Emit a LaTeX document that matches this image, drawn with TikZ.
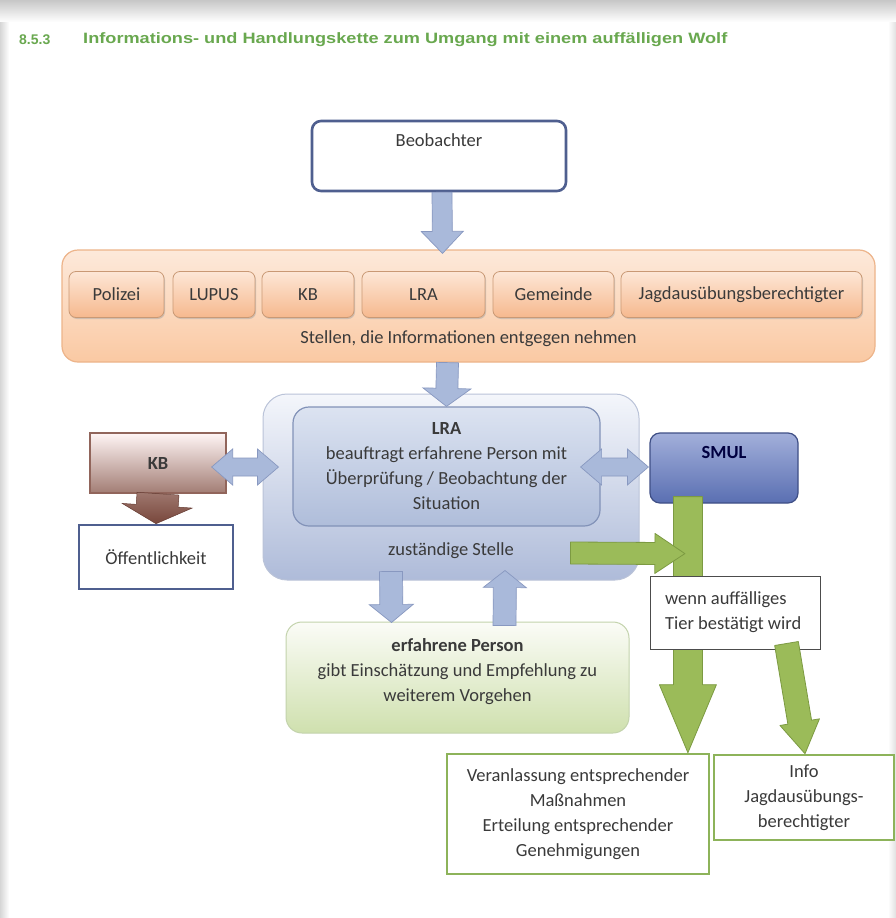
\documentclass[tikz,border=0pt]{standalone}
\usepackage{fontspec}
\setmainfont{Carlito}
\newfontfamily\titlefont{Liberation Sans}
\usetikzlibrary{calc,shadows}
\definecolor{titlegreen}{HTML}{69A84F}
\definecolor{txt}{HTML}{3A3A3A}
\definecolor{orbord}{HTML}{EDB48A}
\definecolor{bluebord}{HTML}{8292B8}
\definecolor{arrblue}{HTML}{A9B9DA}
\definecolor{arrbluebord}{HTML}{8898C0}
\definecolor{grn}{HTML}{9BBB59}
\definecolor{grnbord}{HTML}{7C9A42}
\definecolor{grnbox}{HTML}{8DB35A}
\definecolor{brn}{HTML}{7E4A3E}
\definecolor{oeffbord}{HTML}{4F5F8F}
\definecolor{conttop}{HTML}{F4F6FB}
\definecolor{contbot}{HTML}{AEBBD9}
\definecolor{lratop}{HTML}{DCE3F1}
\definecolor{lrabot}{HTML}{AFBDDA}
\definecolor{smultop}{HTML}{A2AFDA}
\definecolor{smulbot}{HTML}{5A6FB2}
\definecolor{smulbord}{HTML}{3F4F86}
\definecolor{ertop}{HTML}{FBFCF7}
\definecolor{erbot}{HTML}{CFE0AE}
\definecolor{erbord}{HTML}{C3D3AC}
\definecolor{ortop}{HTML}{FDE9DA}
\definecolor{orbot}{HTML}{FAC9A3}
\definecolor{obtop}{HTML}{FDE6D6}
\definecolor{obbot}{HTML}{F6B98E}
\newcommand\fatarrow[6]{% style, A, B, shaft half, head half, head length
  \coordinate (fa-h) at ($(#3)!#6!(#2)$);
  \path[#1] ($(#2)!#4!90:(#3)$) -- ($(fa-h)!#4!90:(#3)$) -- ($(fa-h)!#5!90:(#3)$) -- (#3)
    -- ($(fa-h)!#5!-90:(#3)$) -- ($(fa-h)!#4!-90:(#3)$) -- ($(#2)!#4!-90:(#3)$) -- cycle;}
\newcommand\dblfatarrow[6]{%
  \coordinate (fa-h1) at ($(#2)!#6!(#3)$);
  \coordinate (fa-h2) at ($(#3)!#6!(#2)$);
  \path[#1] (#2) -- ($(fa-h1)!#5!90:(#3)$) -- ($(fa-h1)!#4!90:(#3)$) -- ($(fa-h2)!#4!90:(#3)$)
    -- ($(fa-h2)!#5!90:(#3)$) -- (#3) -- ($(fa-h2)!#5!-90:(#3)$) -- ($(fa-h2)!#4!-90:(#3)$)
    -- ($(fa-h1)!#4!-90:(#3)$) -- ($(fa-h1)!#5!-90:(#3)$) -- cycle;}
\tikzset{
  every node/.style={text=txt, font=\fontsize{18.5}{25}\selectfont},
  orcont/.style={draw=orbord, line width=1.2pt, rounded corners=16pt, top color=ortop, bottom color=orbot},
  orbox/.style={draw=orbord!85!black, line width=0.8pt, rounded corners=7pt, top color=obtop, bottom color=obbot, minimum height=46pt, inner sep=0pt,
     drop shadow={shadow xshift=1pt, shadow yshift=-1.5pt, fill=black!35, opacity=0.5}},
  bluecont/.style={draw=bluebord!55!white, line width=1pt, rounded corners=24pt, top color=conttop, bottom color=contbot},
  lrabox/.style={draw=bluebord, line width=1.2pt, rounded corners=16pt, top color=lratop, bottom color=lrabot, align=center, inner sep=0pt},
  whitebox/.style={draw=#1, fill=white, line width=2.6pt, align=center, inner sep=0pt},
  blarrow/.style={fill=arrblue, draw=arrbluebord, line width=0.7pt},
  grarrow/.style={fill=grn, draw=grnbord, line width=0.8pt, line join=round},
  titlestyle/.style={anchor=west, inner sep=0pt, text=titlegreen, font=\titlefont\bfseries\fontsize{15}{17}\selectfont},
}
\begin{document}
\begin{tikzpicture}[x=1pt, y=-1pt]
\useasboundingbox (0,0) rectangle (896,918);
\fill[white] (0,0) rectangle (896,918);
\shade[top color=black!22, bottom color=white] (0,0) rectangle (896,22);
\shade[left color=black!16, right color=white] (0,22) rectangle (9,918);
\shade[left color=white, right color=black!12] (888,22) rectangle (896,918);

% title
\node[titlestyle, font=\titlefont\bfseries\fontsize{14}{17}\selectfont] (num) at (19,40) {8.5.3};
\node[titlestyle, xscale=1.21] (title) at (83,40) {Informations- und Handlungskette zum Umgang mit einem auffälligen Wolf};

% Beobachter
\node[draw=oeffbord, fill=white, line width=2.6pt, rounded corners=9pt, minimum width=254pt, minimum height=70pt,
  label={[anchor=north, yshift=-10pt]north:Beobachter}] (beob) at (439,156) {};

% orange container
\node[orcont, minimum width=813pt, minimum height=112pt, label={[anchor=south, yshift=12pt]south:Stellen, die Informationen entgegen nehmen}] (stellen) at (468.5,306) {};
\node[orbox, minimum width=95pt] (polizei) at (116.5,294.5) {Polizei};
\node[orbox, minimum width=82pt] (lupus) at (214,294.5) {LUPUS};
\node[orbox, minimum width=92pt] (kb1) at (308,294.5) {KB};
\node[orbox, minimum width=123pt] (lra1) at (423.5,294.5) {LRA};
\node[orbox, minimum width=121pt] (gemeinde) at (553.5,294.5) {Gemeinde};
\node[orbox, minimum width=241pt] (jagd) at (741.5,294.5) {Jagdausübungsberechtigter};

% zuständige Stelle
\node[bluecont, minimum width=376pt, minimum height=186pt, label={[anchor=south, yshift=18pt]south:zuständige Stelle}] (zust) at (451,487) {};
\node[lrabox, minimum width=307pt, minimum height=119pt] (lra) at (446.5,466.5) {\textbf{LRA}\\beauftragt erfahrene Person mit\\Überprüfung / Beobachtung der\\Situation};

% KB brown
\node[draw=brn!85!white, line width=1.3pt, top color=red!4!white, bottom color=brn!72!white, minimum width=136pt, minimum height=60pt, font=\bfseries\fontsize{18.5}{25}\selectfont] (kb) at (158,463) {KB};
\node[whitebox=oeffbord, minimum width=154pt, minimum height=64pt] (oeff) at (156,557) {Öffentlichkeit};
\fatarrow{top color=brn!75!white, bottom color=brn!95!black, draw=brn!80!black, line width=0.5pt}{kb.south}{oeff.north}{21pt}{35pt}{18pt}

% SMUL
\node[draw=smulbord, line width=1.2pt, rounded corners=10pt, top color=smultop, bottom color=smulbot,
  minimum width=148pt, minimum height=70pt, label={[anchor=north, yshift=-10pt, font=\bfseries\fontsize{18.5}{25}\selectfont, text=blue!25!black]north:SMUL}] (smul) at (724,468) {};

% erfahrene Person
\node[draw=erbord, line width=1pt, rounded corners=16pt, top color=ertop, bottom color=erbot,
  minimum width=343pt, minimum height=111pt,
  label={[align=center, yshift=5.5pt]center:\textbf{erfahrene Person}\\gibt Einschätzung und Empfehlung zu\\weiterem Vorgehen}] (erf) at (457.5,677.5) {};

% result boxes
\node[whitebox=grnbox, minimum width=262pt, minimum height=120pt] (veran) at (578,814) {Veranlassung entsprechender\\Maßnahmen\\Erteilung entsprechender\\Genehmigungen};
\node[whitebox=grnbox, minimum width=180pt, minimum height=85pt] (info) at (804,797.5) {Info\\Jagdausübungs-\\berechtigter};

% blue arrows
\fatarrow{blarrow}{$(beob.south)+(3,0)$}{$(stellen.north)+(-26,4)$}{10pt}{21pt}{22pt}
\fatarrow{blarrow}{$(stellen.south)+(-21,0)$}{$(lra.north)+(0,0)$}{11pt}{24pt}{18pt}
\dblfatarrow{blarrow}{$(kb.east)+(-15,4)$}{$(zust.west)+(16,-20)$}{9pt}{18pt}{21pt}
\dblfatarrow{blarrow}{$(lra.east)+(-20,0.5)$}{$(smul.west)+(-1,-1)$}{9pt}{18pt}{21pt}
\fatarrow{blarrow}{$(zust.south)+(-60,-9)$}{$(erf.north)+(-66,1)$}{11.5pt}{22pt}{18pt}
\fatarrow{blarrow}{$(erf.north)+(47,4)$}{$(zust.south)+(54,-10)$}{11.5pt}{21.5pt}{17pt}

% green arrows
\coordinate (gtop) at ($(smul.south west)+(38.5,-7)$);
\fatarrow{grarrow}{gtop}{gtop |- veran.north}{14.5pt}{28.5pt}{68pt}
\node[draw=black!70, fill=white, line width=1pt, minimum width=170pt, minimum height=73pt,
  label={[anchor=west, align=left, xshift=12pt]west:wenn auffälliges\\Tier bestätigt wird}] (wenn) at (735,612.5) {};
\fatarrow{grarrow}{$(zust.east)+(-69,66)$}{$(gtop)+(-3,57)$}{11pt}{20pt}{30pt}
\fatarrow{grarrow}{$(wenn.south east)+(-34,-6)$}{$(info.north)+(1,0)$}{12pt}{20pt}{32pt}
\end{tikzpicture}
\end{document}
